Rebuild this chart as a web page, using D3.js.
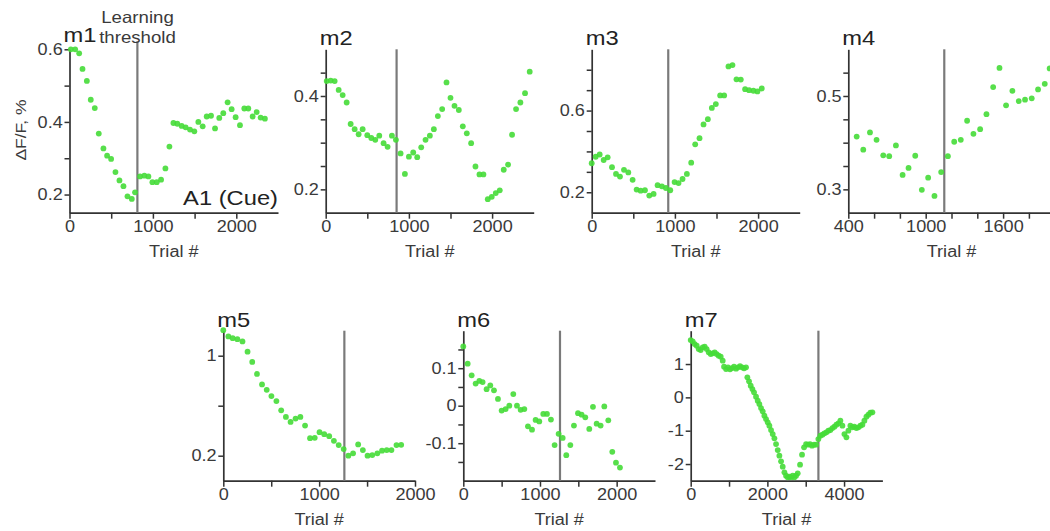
<!DOCTYPE html>
<html>
<head>
<meta charset="utf-8">
<script src="https://cdn.jsdelivr.net/npm/d3@7"></script>
<style>
  body { margin: 0; background: #fff; }
  svg { display: block; font-family: "Liberation Sans", Arial, sans-serif; }
</style>
</head>
<body>
<div id="chart"></div>
<script>
// values (trial number, dF/F %)
var m1Trials = [16,68,116,156,208,255,303,351,407,451,499,551,599,647,695,747,786,846,898,946,994,1046,1098,1150,1198,1246,1293,1345,1393,1445,1497,1545,1597,1645,1697,1745,1796,1844,1896,1944,1992,2044,2096,2144,2196,2244,2292,2343];
var m1Values = [0.600,0.600,0.589,0.546,0.513,0.461,0.438,0.368,0.327,0.307,0.298,0.262,0.239,0.223,0.195,0.188,0.206,0.250,0.252,0.250,0.234,0.234,0.241,0.272,0.332,0.397,0.395,0.389,0.385,0.379,0.374,0.400,0.388,0.415,0.417,0.382,0.411,0.424,0.454,0.435,0.413,0.391,0.437,0.437,0.415,0.427,0.412,0.409];

var m2Trials = [12,60,108,156,204,252,300,348,396,444,500,548,596,644,696,744,796,844,900,952,1000,1052,1100,1148,1200,1252,1300,1348,1400,1452,1500,1548,1600,1648,1696,1748,1800,1848,1896,1948,1996,2044,2092,2140,2192,2240,2288,2340,2396,2452];
var m2Values = [0.432,0.433,0.432,0.413,0.402,0.386,0.340,0.329,0.318,0.329,0.316,0.310,0.306,0.315,0.299,0.291,0.315,0.306,0.277,0.233,0.270,0.279,0.269,0.290,0.306,0.315,0.329,0.357,0.372,0.429,0.396,0.379,0.370,0.335,0.320,0.299,0.249,0.232,0.232,0.179,0.184,0.192,0.198,0.242,0.253,0.317,0.372,0.386,0.406,0.452];

var m3Trials = [0,48,96,144,192,244,292,340,388,440,492,540,588,640,692,744,792,844,892,944,996,1044,1092,1144,1196,1244,1296,1344,1396,1444,1492,1544,1592,1644,1692,1740,1792,1844,1892,1944,1992,2044];
var m3Values = [0.342,0.374,0.385,0.358,0.371,0.323,0.290,0.277,0.310,0.297,0.261,0.213,0.208,0.210,0.184,0.192,0.235,0.229,0.221,0.210,0.250,0.245,0.265,0.290,0.345,0.435,0.465,0.532,0.558,0.613,0.632,0.674,0.674,0.816,0.823,0.753,0.752,0.705,0.700,0.697,0.694,0.708];

var m4Trials = [465,516,568,619,671,717,769,821,867,919,970,1019,1068,1120,1172,1221,1272,1321,1370,1422,1471,1523,1572,1623,1672,1721,1770,1822,1871,1923,1961];
var m4Values = [0.413,0.385,0.422,0.406,0.373,0.371,0.394,0.331,0.346,0.372,0.299,0.325,0.286,0.337,0.371,0.402,0.406,0.447,0.419,0.429,0.461,0.519,0.560,0.480,0.511,0.489,0.492,0.495,0.514,0.526,0.559];

var m5Trials = [0,53,98,147,200,253,302,351,404,453,502,554,604,653,702,754,804,853,905,954,1004,1053,1105,1154,1204,1256,1305,1354,1407,1456,1505,1554,1607,1656,1705,1754,1807,1856];
var m5Values = [1.204,1.154,1.140,1.132,1.114,1.032,0.950,0.854,0.770,0.727,0.677,0.637,0.563,0.510,0.470,0.497,0.510,0.441,0.340,0.343,0.388,0.372,0.356,0.319,0.285,0.253,0.200,0.219,0.290,0.245,0.200,0.205,0.219,0.240,0.245,0.245,0.285,0.287];

var m6Trials = [0,57,109,161,209,252,304,352,400,452,500,552,600,652,700,748,796,843,896,943,991,1043,1091,1143,1191,1243,1296,1343,1396,1443,1496,1543,1591,1643,1691,1739,1791,1839,1891,1943,1991,2043];
var m6Values = [0.158,0.112,0.081,0.059,0.066,0.063,0.044,0.054,0.041,0.018,-0.013,-0.009,0.000,0.031,0.000,-0.011,-0.009,-0.055,-0.064,-0.038,-0.042,-0.022,-0.022,-0.037,-0.105,-0.075,-0.086,-0.132,-0.105,-0.053,-0.020,-0.024,-0.031,-0.062,-0.003,-0.048,-0.053,-0.002,-0.039,-0.123,-0.152,-0.165];

var m7Trials = [0,52,104,157,209,261,313,365,417,470,522,574,626,678,730,783,835,870,922,974,1026,1078,1130,1183,1235,1287,1339,1391,1443,1478,1522,1565,1609,1652,1704,1748,1791,1835,1878,1922,1965,2009,2052,2096,2139,2183,2226,2270,2313,2357,2400,2444,2487,2530,2574,2617,2661,2704,2748,2791,2852,2904,2957,3009,3061,3113,3165,3217,3270,3330,3383,3435,3487,3539,3591,3643,3696,3748,3800,3852,3904,3957,4009,4061,4113,4165,4217,4270,4322,4374,4426,4478,4530,4583,4635,4687,4739];
var m7Values = [1.72,1.68,1.60,1.55,1.45,1.42,1.50,1.52,1.45,1.35,1.30,1.32,1.35,1.30,1.25,1.22,1.10,0.92,0.85,0.90,0.84,0.88,0.92,0.86,0.90,0.94,0.90,0.87,0.90,0.60,0.48,0.35,0.25,0.15,0.02,-0.10,-0.20,-0.32,-0.42,-0.55,-0.65,-0.75,-0.85,-0.98,-1.10,-1.23,-1.40,-1.58,-1.75,-1.92,-2.08,-2.25,-2.35,-2.40,-2.38,-2.40,-2.35,-2.40,-2.35,-2.28,-2.02,-1.72,-1.50,-1.40,-1.42,-1.40,-1.45,-1.42,-1.42,-1.25,-1.15,-1.12,-1.08,-1.05,-1.00,-0.98,-0.92,-0.88,-0.82,-0.78,-0.70,-0.85,-1.10,-1.20,-1.00,-0.85,-0.90,-0.88,-0.92,-0.90,-0.85,-0.82,-0.70,-0.58,-0.52,-0.46,-0.45];

// learning threshold (trial #) per mouse
var thresholds = [814, 852, 920, 1144, 1263, 1261, 3331];

// axis ranges and ticks
var xDomains = [[0,2500],[0,2500],[0,2500],[400,2000],[0,2000],[0,2500],[0,5000]];
var yDomains = [[0.15,0.6],[0.15,0.5],[0.1,0.9],[0.25,0.6],[0,1.2],[-0.2,0.2],[-2.5,2]];
var xTicks = [[0,500,1000,1500,2000],[0,500,1000,1500,2000],[0,500,1000,1500,2000],
              [400,600,800,1000,1200,1400,1600,1800],[0,500,1000,1500,2000],[0,500,1000,1500,2000],[0,1000,2000,3000,4000]];
var xTickLabels = [[0,1000,2000],[0,1000,2000],[0,1000,2000],[400,1000,1600],[0,1000,2000],[0,1000,2000],[0,2000,4000]];
var yTicks = [[0.2,0.3,0.4,0.5,0.6],[0.2,0.25,0.3,0.35,0.4,0.45],[0.2,0.3,0.4,0.5,0.6,0.7,0.8],
              [0.3,0.35,0.4,0.45,0.5,0.55],[0.2,0.6,1],[-0.15,-0.1,-0.05,0,0.05,0.1,0.15],[-2,-1,0,1]];
var yTickLabels = [[0.2,0.4,0.6],[0.2,0.4],[0.2,0.6],[0.3,0.5],[0.2,1],[-0.1,0,0.1],[-2,-1,0,1]];
var names = ["m1","m2","m3","m4","m5","m6","m7"];
var series = [[m1Trials,m1Values],[m2Trials,m2Values],[m3Trials,m3Values],[m4Trials,m4Values],
              [m5Trials,m5Values],[m6Trials,m6Values],[m7Trials,m7Values]];

// panel boxes on the page
var boxes = [
  {x:69.5, y:49.3, w:208.5, h:163.4},
  {x:325.7, y:49.3, w:208, h:163.4},
  {x:591.7, y:49.3, w:208, h:163.4},
  {x:848.3, y:49.3, w:206.4, h:163.4},
  {x:223.3, y:330.7, w:191.7, h:150},
  {x:463.3, y:330.7, w:191.7, h:150},
  {x:690.7, y:330.7, w:191.7, h:150}
];

var green = "#45dc37", axisColor = "#333", textColor = "#3a3a3a";
var sx = 1.13; // glyphs in the reference are a bit wider than Arial

var svg = d3.select("#chart").append("svg").attr("width", 1050).attr("height", 531);
svg.append("rect").attr("width", 1050).attr("height", 531).attr("fill", "#fff");

function label(x, y, txt, size, anchor, rot) {
  return svg.append("text")
    .attr("transform", "translate(" + x + "," + y + ")" + (rot ? " rotate(" + rot + ")" : "") + " scale(" + sx + ",1)")
    .attr("text-anchor", anchor || "start")
    .attr("font-size", size)
    .attr("fill", textColor)
    .text(txt);
}

names.forEach(function(name, i) {
  var b = boxes[i];
  var x = d3.scaleLinear().domain(xDomains[i]).range([b.x, b.x + b.w]);
  var y = d3.scaleLinear().domain(yDomains[i]).range([b.y + b.h, b.y]);

  var xAxis = d3.axisBottom(x).tickValues(xTicks[i]).tickSize(6).tickSizeOuter(0).tickPadding(2)
    .tickFormat(function(d) { return xTickLabels[i].indexOf(d) >= 0 ? String(d) : ""; });
  var yAxis = d3.axisLeft(y).tickValues(yTicks[i]).tickSize(5).tickSizeOuter(0).tickPadding(1)
    .tickFormat(function(d) { return yTickLabels[i].indexOf(d) >= 0 ? String(d) : ""; });

  var gx = svg.append("g").attr("transform", "translate(0," + (b.y + b.h) + ")").call(xAxis);
  var gy = svg.append("g").attr("transform", "translate(" + b.x + ",0)").call(yAxis);
  [gx, gy].forEach(function(g) {
    g.select(".domain").attr("stroke", axisColor).attr("stroke-width", 1.7);
    g.selectAll(".tick line").attr("stroke", axisColor).attr("stroke-width", 1.5);
    g.selectAll(".tick text").attr("font-size", 16).attr("fill", textColor)
      .attr("font-family", "Liberation Sans, Arial, sans-serif")
      .attr("transform", "scale(" + sx + ",1)");
  });

  // learning threshold
  svg.append("line")
    .attr("x1", x(thresholds[i])).attr("x2", x(thresholds[i]))
    .attr("y1", i === 0 ? b.y - 8 : b.y).attr("y2", b.y + b.h)
    .attr("stroke", "#7a7a7a").attr("stroke-width", 2.2);

  var pts = series[i][0].map(function(t, k) { return [t, series[i][1][k]]; });
  svg.append("g").selectAll("circle")
    .data(pts)
    .enter()
    .append("circle")
    .attr("cx", function(d) { return x(d[0]); })
    .attr("cy", function(d) { return y(d[1]); })
    .attr("r", 2.9)
    .attr("fill", green)
    .attr("fill-opacity", 0.9);

  // panel title and x label
  label(b.x - 6, i === 0 ? b.y - 7 : b.y - 4, name, 21, "start").attr("fill", "#222");
  label(b.x + b.w / 2, i < 4 ? 257 : 525, "Trial #", 16, "middle");
});

// annotations on m1
label(137.5, 23, "Learning", 16.5, "middle");
label(137.5, 42.5, "threshold", 16.5, "middle");
label(278, 205, "A1 (Cue)", 21, "end").attr("fill", "#222");
label(26, 130, "\u0394F/F, %", 15.5, "middle", -90);
</script>
</body>
</html>
